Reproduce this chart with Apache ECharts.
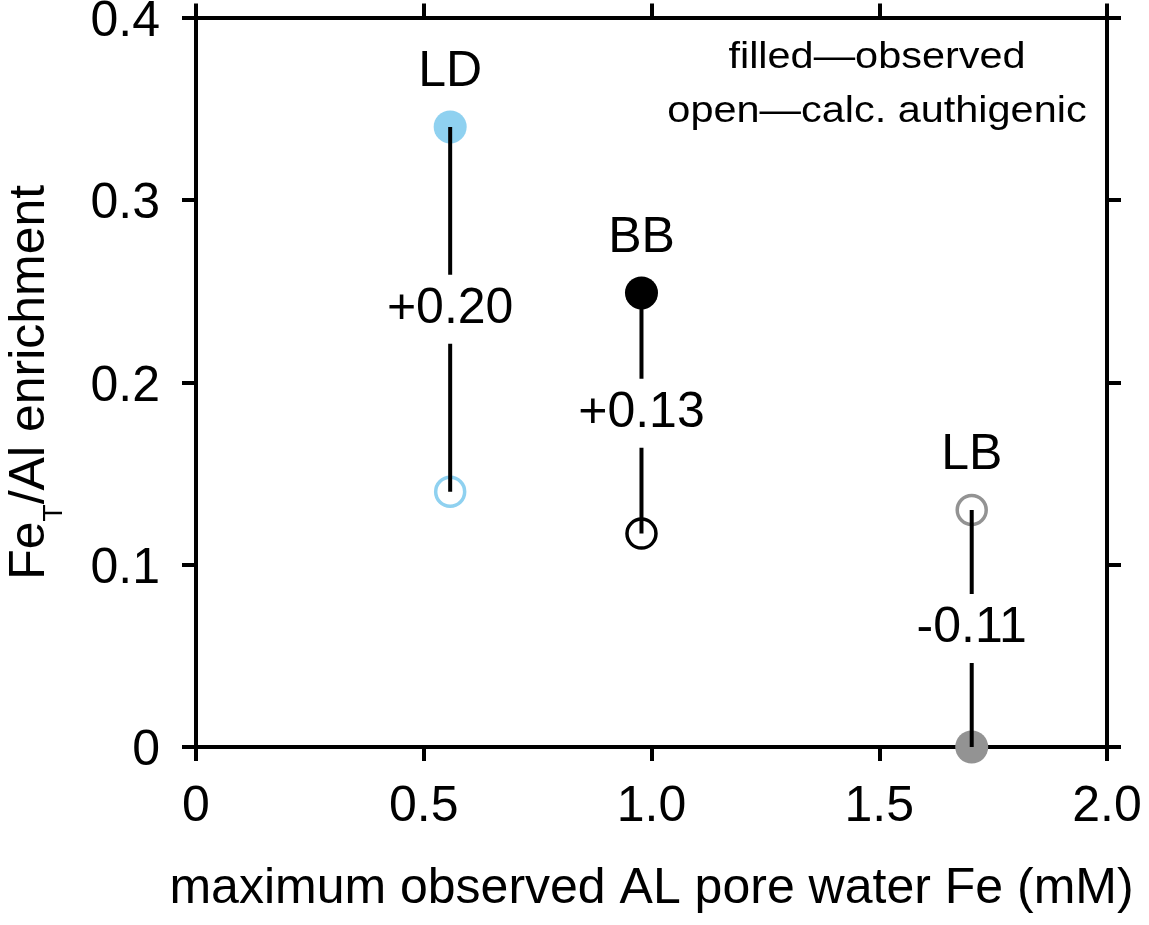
<!DOCTYPE html>
<html>
<head>
<meta charset="utf-8">
<script src="https://cdn.jsdelivr.net/npm/echarts@6/dist/echarts.min.js"></script>
<style>
  html, body { margin: 0; padding: 0; background: #fff; }
  #chart { width: 1149px; height: 925px; }
</style>
</head>
<body>
<div id="chart"></div>
<script>
// ---- data ----
const sites = ['LD', 'BB', 'LB'];
const poreWaterFe = [0.558, 0.978, 1.703];          // x, mM
const observedEnrichment = [0.340, 0.249, 0.0];     // filled
const authigenicEnrichment = [0.140, 0.117, 0.130]; // open
const diffLabels = ['+0.20', '+0.13', '-0.11'];
const siteColors = ['#8fd1f0', '#000000', '#939393'];
const xTicks = ['0', '0.5', '1.0', '1.5', '2.0'];
const yTicks = ['0', '0.1', '0.2', '0.3', '0.4'];

const FONT = '"Liberation Sans", Arial, Helvetica, sans-serif';
const FS = 50;
const chart = echarts.init(document.getElementById('chart'), null, { renderer: 'canvas' });

const axisLineStyle = { color: '#000', width: 4 };
const tickStyle = { show: true, inside: false, length: 14, lineStyle: { color: '#000', width: 4 } };

const series = [];
// filled (observed)
series.push({
  type: 'scatter', z: 2, symbol: 'circle', symbolSize: 33, silent: true,
  itemStyle: { opacity: 1 },
  data: sites.map((s, i) => ({ value: [poreWaterFe[i], observedEnrichment[i]], itemStyle: { color: siteColors[i], opacity: 1 } }))
});
// open (calc. authigenic)
series.push({
  type: 'scatter', z: 2, symbol: 'circle', symbolSize: 29, silent: true,
  itemStyle: { opacity: 1 },
  data: sites.map((s, i) => ({ value: [poreWaterFe[i], authigenicEnrichment[i]], itemStyle: { color: 'rgba(255,255,255,0)', borderColor: siteColors[i], borderWidth: 3.5, opacity: 1 } }))
});
// connecting lines
sites.forEach((s, i) => {
  series.push({
    type: 'line', z: 3, symbol: 'none', silent: true,
    lineStyle: { color: '#000', width: 4 },
    data: [[poreWaterFe[i], observedEnrichment[i]], [poreWaterFe[i], authigenicEnrichment[i]]]
  });
});
// difference labels at midpoint (white background breaks the line)
series.push({
  type: 'scatter', z: 5, symbolSize: 1, silent: true,
  itemStyle: { color: 'rgba(0,0,0,0)', opacity: 1 },
  data: sites.map((s, i) => ({ value: [poreWaterFe[i], (observedEnrichment[i] + authigenicEnrichment[i]) / 2], name: diffLabels[i] })),
  label: {
    show: true, position: 'inside', formatter: p => p.name, opacity: 1,
    fontFamily: FONT, fontSize: FS, color: '#000',
    backgroundColor: '#fff', padding: [10, 2, 9, 2], lineHeight: FS
  }
});
// site labels above the top point
series.push({
  type: 'scatter', z: 5, symbolSize: 33, silent: true,
  itemStyle: { color: 'rgba(0,0,0,0)', opacity: 1 },
  data: sites.map((s, i) => ({ value: [poreWaterFe[i], Math.max(observedEnrichment[i], authigenicEnrichment[i])], name: s })),
  label: {
    show: true, position: 'top', distance: 13, formatter: p => p.name, opacity: 1,
    fontFamily: FONT, fontSize: FS, color: '#000', lineHeight: FS
  }
});
// empty series so the mirror (top / right) axes are drawn
series.push({ type: 'scatter', xAxisIndex: 1, yAxisIndex: 1, data: [], silent: true });

const option = {
  backgroundColor: '#fff',
  animation: false,
  grid: { left: 196, right: 42, top: 17.5, bottom: 178, containLabel: false, outerBoundsMode: 'none' },
  xAxis: [{
    type: 'value', position: 'bottom', min: 0, max: 2, interval: 0.5,
    axisLine: { show: true, lineStyle: axisLineStyle },
    axisTick: tickStyle,
    splitLine: { show: false },
    axisLabel: { fontFamily: FONT, fontSize: FS, color: '#000', margin: 35,
      formatter: v => xTicks[Math.round(v / 0.5)] },
    name: 'maximum observed AL pore water Fe (mM)',
    nameLocation: 'middle', nameGap: 117,
    nameTextStyle: { fontFamily: FONT, fontSize: FS, color: '#000' }
  }, {
    type: 'value', position: 'top', min: 0, max: 2, interval: 0.5,
    axisLine: { show: true, onZero: false, lineStyle: axisLineStyle },
    axisTick: tickStyle,
    splitLine: { show: false },
    axisLabel: { show: false }
  }],
  yAxis: [{
    type: 'value', position: 'left', min: 0, max: 0.4, interval: 0.1,
    axisLine: { show: true, lineStyle: axisLineStyle },
    axisTick: tickStyle,
    splitLine: { show: false },
    axisLabel: { fontFamily: FONT, fontSize: FS, color: '#000', margin: 36,
      formatter: v => '{v|' + yTicks[Math.round(v / 0.1)] + '}',
      rich: { v: { fontFamily: FONT, fontSize: FS, color: '#000', lineHeight: FS, padding: [9, 0, 0, 0] } } },
    name: '{a|Fe}{sub|T}{a|/Al enrichment}',
    nameLocation: 'middle', nameGap: 93,
    nameTextStyle: {
      fontFamily: FONT, fontSize: FS, color: '#000',
      rich: {
        a: { fontFamily: FONT, fontSize: FS, color: '#000', lineHeight: FS, verticalAlign: 'top' },
        sub: { fontFamily: FONT, fontSize: 28, color: '#000', lineHeight: 98, verticalAlign: 'middle' }
      }
    }
  }, {
    type: 'value', position: 'right', min: 0, max: 0.4, interval: 0.1,
    axisLine: { show: true, onZero: false, lineStyle: axisLineStyle },
    axisTick: tickStyle,
    splitLine: { show: false },
    axisLabel: { show: false }
  }],
  graphic: [
    { type: 'text', x: 877, y: 58, z: 10, scaleX: 1.12, originX: 0, originY: 0,
      style: { text: 'filled\u2014observed', fontFamily: FONT, fontSize: 37, fill: '#000', textAlign: 'center', textVerticalAlign: 'middle' } },
    { type: 'text', x: 877, y: 112, z: 10, scaleX: 1.12, originX: 0, originY: 0,
      style: { text: 'open\u2014calc. authigenic', fontFamily: FONT, fontSize: 37, fill: '#000', textAlign: 'center', textVerticalAlign: 'middle' } }
  ],
  series: series
};
chart.setOption(option);
</script>
</body>
</html>
